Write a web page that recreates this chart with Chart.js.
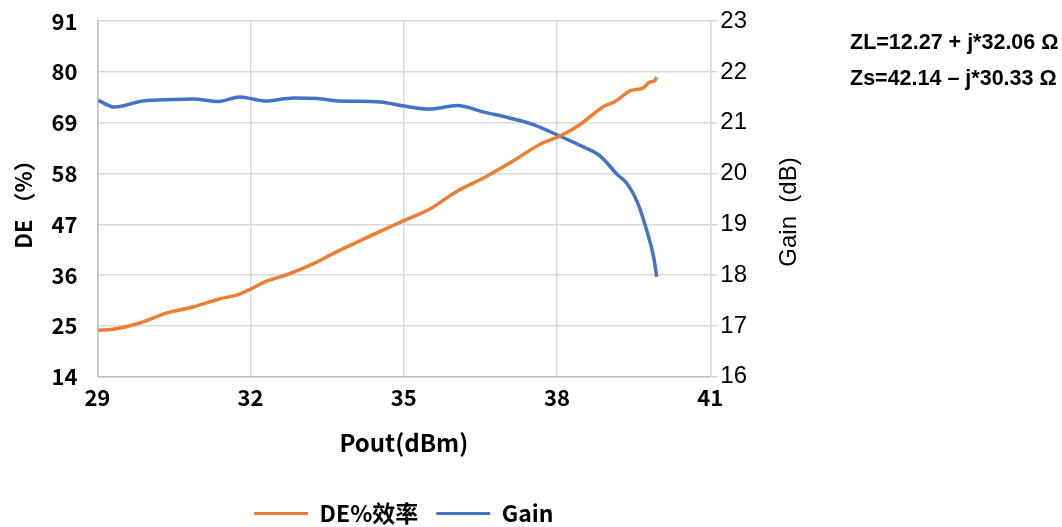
<!DOCTYPE html>
<html>
<head>
<meta charset="utf-8">
<script src="https://cdn.jsdelivr.net/npm/chart.js@4/dist/chart.umd.min.js"></script>
<style>
  html, body { margin: 0; padding: 0; background: #fff; }
  #wrap { position: relative; width: 1062px; height: 527px; overflow: hidden; }
  .note { position: absolute; left: 850px; font: bold 21.5px "Liberation Sans", Arial, sans-serif; color: #000; white-space: nowrap; }
</style>
</head>
<body>
<div id="wrap">
  <canvas id="grafico" width="1062" height="535"></canvas>
  <div class="note" style="top:30px">ZL=12.27 + j*32.06 Ω</div>
  <div class="note" style="top:66px">Zs=42.14 – j*30.33 Ω</div>
</div>
<script>
// Pout (dBm) y DE (%)
const poutDE = [29.02, 29.30, 29.82, 30.35, 30.87, 31.40, 31.76, 32.02, 32.31, 32.71, 33.23, 33.69, 34.21, 34.60, 35.00, 35.52, 36.04, 36.57, 37.09, 37.68, 38.07, 38.46, 38.92, 39.12, 39.45, 39.68, 39.81, 39.91, 39.95];
const valoresDE = [24.1, 24.3, 25.6, 27.8, 29.1, 30.9, 31.8, 33.1, 34.7, 36.1, 38.5, 41.1, 43.8, 45.8, 47.8, 50.4, 54.2, 57.1, 60.4, 64.4, 66.2, 68.7, 72.6, 73.5, 76.0, 76.5, 77.8, 78.1, 78.9];

// Pout (dBm) y Gain (dB)
const poutGain = [29.02, 29.33, 29.89, 30.48, 30.87, 31.37, 31.79, 32.28, 32.84, 33.30, 33.75, 34.54, 35.00, 35.52, 36.04, 36.57, 37.09, 37.55, 38.07, 38.46, 38.85, 39.18, 39.38, 39.58, 39.77, 39.89, 39.95];
const valoresGain = [21.44, 21.31, 21.43, 21.46, 21.47, 21.42, 21.51, 21.43, 21.49, 21.48, 21.43, 21.41, 21.33, 21.27, 21.34, 21.21, 21.09, 20.96, 20.73, 20.55, 20.34, 19.98, 19.79, 19.42, 18.83, 18.36, 17.97];

const ticksX = [29, 32, 35, 38, 41];
const ticksDE = [14, 25, 36, 47, 58, 69, 80, 91];
const ticksGain = [16, 17, 18, 19, 20, 21, 22, 23];

const fuente = '"Noto Sans CJK SC", "Noto Sans", sans-serif';
const fuenteDer = '"Liberation Sans", Arial, sans-serif';
const naranja = '#ED7D31';
const azul = '#4472C4';
const gris = '#D9D9D9';

// Título del eje derecho, leído de abajo hacia arriba
const tituloDerecho = {
    id: 'tituloDerecho',
    afterDraw(chart) {
        const ctx = chart.ctx;
        ctx.save();
        ctx.translate(789, 212);
        ctx.rotate(-Math.PI / 2);
        ctx.font = '24px ' + fuenteDer;
        ctx.fillStyle = '#000';
        ctx.textAlign = 'center';
        ctx.textBaseline = 'middle';
        ctx.fillText('Gain  (dB)', 0, 0);
        ctx.restore();
    }
};

new Chart(document.getElementById('grafico'), {
    type: 'line',
    data: {
        datasets: [
            {
                label: 'DE%效率',
                data: poutDE.map((x, i) => ({ x, y: valoresDE[i] })),
                borderColor: naranja,
                backgroundColor: naranja,
                borderWidth: 3.5,
                pointRadius: 0,
                cubicInterpolationMode: 'monotone',
                yAxisID: 'yDE'
            },
            {
                label: 'Gain',
                data: poutGain.map((x, i) => ({ x, y: valoresGain[i] })),
                borderColor: azul,
                backgroundColor: azul,
                borderWidth: 3.5,
                pointRadius: 0,
                cubicInterpolationMode: 'monotone',
                yAxisID: 'yGain'
            }
        ]
    },
    options: {
        responsive: false,
        animation: false,
        layout: { padding: { left: 10, right: 312, top: 0, bottom: 0 } },
        plugins: {
            tooltip: { enabled: false },
            legend: {
                position: 'bottom',
                fullSize: false,
                labels: {
                    boxWidth: 54,
                    boxHeight: 3,
                    padding: 18,
                    color: '#000',
                    font: { family: fuente, size: 23, weight: 'bold' },
                    generateLabels: chart => Chart.defaults.plugins.legend.labels.generateLabels(chart)
                        .map(l => ({ ...l, lineWidth: 0 }))
                }
            }
        },
        scales: {
            x: {
                type: 'linear',
                min: 29,
                max: 41,
                afterBuildTicks: s => { s.ticks = ticksX.map(v => ({ value: v })); },
                grid: { color: gris, lineWidth: 1.5, drawTicks: false },
                border: { color: '#BFBFBF', width: 1.5 },
                ticks: { padding: 8, color: '#000', font: { family: fuente, size: 22, weight: 'bold' } },
                title: {
                    display: true,
                    text: 'Pout(dBm)',
                    color: '#000',
                    font: { family: fuente, size: 24, weight: 'bold' },
                    padding: { top: 9, bottom: 27 }
                }
            },
            yDE: {
                position: 'left',
                min: 14,
                max: 91,
                afterBuildTicks: s => { s.ticks = ticksDE.map(v => ({ value: v })); },
                grid: { color: gris, lineWidth: 1.5, tickLength: 12, tickColor: 'rgba(0,0,0,0)' },
                border: { color: '#BFBFBF', width: 1.5 },
                ticks: { padding: 8, color: '#000', font: { family: fuente, size: 22, weight: 'bold' } },
                title: {
                    display: true,
                    text: 'DE （%）',
                    color: '#000',
                    font: { family: fuente, size: 22, weight: 'bold' },
                    padding: { top: 0, bottom: 7 }
                }
            },
            yGain: {
                position: 'right',
                min: 16,
                max: 23,
                afterBuildTicks: s => { s.ticks = ticksGain.map(v => ({ value: v })); },
                grid: { drawOnChartArea: false, color: gris, lineWidth: 1.5, tickLength: 7 },
                border: { color: gris, width: 1.5 },
                ticks: { padding: 3, color: '#000', font: { family: fuenteDer, size: 24 } }
            }
        }
    },
    plugins: [tituloDerecho]
});
</script>
</body>
</html>
